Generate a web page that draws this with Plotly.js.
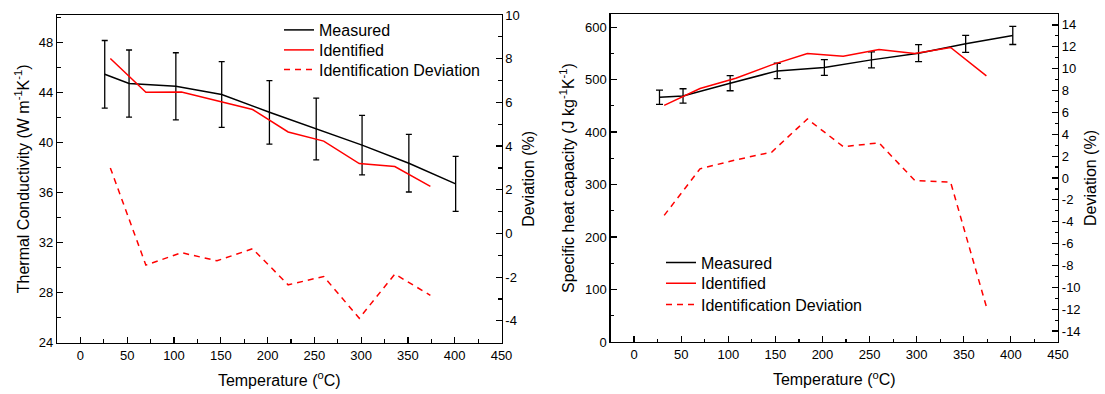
<!DOCTYPE html>
<html>
<head>
<meta charset="utf-8">
<script src="https://cdn.plot.ly/plotly-3.0.1.min.js"></script>
<style>html,body{margin:0;padding:0;background:#fff;}#chart{width:1105px;height:394px;}</style>
</head>
<body>
<div id="chart"></div>
<script>
// ---- Left panel: thermal conductivity ----
const condMeasuredT = [26, 52, 102, 151, 202, 252, 301, 351, 401];
const condMeasured  = [45.46, 44.72, 44.5, 43.84, 42.42, 41.08, 39.8, 38.35, 36.7];
const condErr       = [2.7, 2.68, 2.68, 2.63, 2.54, 2.47, 2.38, 2.3, 2.2];
const condIdentT    = [32, 70, 108, 146, 184, 222, 260, 298, 336, 374];
const condIdentified= [46.72, 44.02, 44.04, 43.32, 42.64, 40.85, 40.12, 38.32, 38.08, 36.5];
const condDeviation = [3.0, -1.45, -0.88, -1.25, -0.7, -2.35, -1.97, -3.88, -1.86, -2.83];

// ---- Right panel: specific heat capacity ----
const cpMeasuredT   = [27, 52, 102, 152, 202, 252, 302, 352, 402];
const cpMeasured    = [466.4, 468.9, 493.1, 516.6, 523, 537.6, 550.4, 568.2, 584.1];
const cpErr         = [13.7, 13.7, 14.3, 14.6, 15.0, 15.3, 16.2, 16.2, 17.2];
const cpIdentT      = [32, 70, 108, 146, 184, 222, 260, 298, 336, 374];
const cpIdentified  = [451, 483, 502.6, 528, 549.7, 544.6, 557.4, 549.7, 561.2, 507];
const cpDeviation   = [-3.42, 0.84, 1.66, 2.36, 5.4, 2.87, 3.21, -0.23, -0.38, -11.78];

// ---- Tick labels ----
const devLeftTickVals  = [-4, -2, 0, 2, 4, 6, 8, 10];
const devLeftTickText  = ['-4', '-2', '0', '2', '4', '6', '8', '10'];
const devRightTickVals = [-14, -12, -10, -8, -6, -4, -2, 0, 2, 4, 6, 8, 10, 12, 14];
const devRightTickText = ['-14', '-12', '-10', '-8', '-6', '-4', '-2', '0', '2', '4', '6', '8', '10', '12', '14'];

// ---- Text ----
const seriesNames = ['Measured', 'Identified', 'Identification Deviation'];
const xTitle = 'Temperature (<sup>o</sup>C)';
const condTitle = 'Thermal Conductivity (W m<sup>-1</sup>K<sup>-1</sup>)';
const cpTitle = 'Specific heat capacity (J kg<sup>-1</sup>K<sup>-1</sup>)';
const devTitle = 'Deviation (%)';

const FONT = 'Arial, "Liberation Sans", sans-serif';
const W = 1105, H = 394;
const px = v => v / W;
const py = v => 1 - v / H;

function errBar(arr, w) {
  return {type: 'data', array: arr, visible: true, color: '#000', thickness: 1.3, width: w};
}

const traces = [
  {x: condMeasuredT, y: condMeasured, error_y: errBar(condErr, 3), type: 'scatter', mode: 'lines',
   name: seriesNames[0], line: {color: '#000', width: 1.5}, xaxis: 'x', yaxis: 'y', legend: 'legend'},
  {x: condIdentT, y: condIdentified, type: 'scatter', mode: 'lines',
   name: seriesNames[1], line: {color: '#ff0000', width: 1.5}, xaxis: 'x', yaxis: 'y', legend: 'legend2'},
  {x: condIdentT, y: condDeviation, type: 'scatter', mode: 'lines',
   name: seriesNames[2], line: {color: '#ff0000', width: 1.5, dash: '6px,5px'}, xaxis: 'x', yaxis: 'y2', legend: 'legend3'},
  {x: cpMeasuredT, y: cpMeasured, error_y: errBar(cpErr, 3.5), type: 'scatter', mode: 'lines',
   name: seriesNames[0], line: {color: '#000', width: 1.5}, xaxis: 'x2', yaxis: 'y3', legend: 'legend4'},
  {x: cpIdentT, y: cpIdentified, type: 'scatter', mode: 'lines',
   name: seriesNames[1], line: {color: '#ff0000', width: 1.5}, xaxis: 'x2', yaxis: 'y3', legend: 'legend5'},
  {x: cpIdentT, y: cpDeviation, type: 'scatter', mode: 'lines',
   name: seriesNames[2], line: {color: '#ff0000', width: 1.5, dash: '6px,5px'}, xaxis: 'x2', yaxis: 'y4', legend: 'legend6'}
];

const tickFont = {family: FONT, size: 13, color: '#000'};
const titleFont = {family: FONT, size: 16, color: '#000'};

function baseAxis(extra) {
  return Object.assign({
    showline: true, linecolor: '#000', linewidth: 1.2,
    ticks: 'inside', ticklen: 6, tickwidth: 1.2, tickcolor: '#000',
    showgrid: false, zeroline: false, tickfont: tickFont, automargin: false,
    fixedrange: true
  }, extra);
}
function minorTicks(d) {
  return {ticks: 'inside', ticklen: 3.5, tickwidth: 1.2, tickcolor: '#000', tickmode: 'linear', tick0: 0, dtick: d};
}
function legendAt(xPx, yPx) {
  return {x: px(xPx), y: py(yPx), xanchor: 'left', yanchor: 'middle', bgcolor: 'rgba(0,0,0,0)', borderwidth: 0,
    font: {family: FONT, size: 16, color: '#000'}, tracegroupgap: 0, traceorder: 'normal'};
}

const layout = {
  width: W, height: H,
  margin: {l: 0, r: 0, t: 0, b: 0, pad: 0},
  paper_bgcolor: '#fff', plot_bgcolor: '#fff',
  font: {family: FONT, color: '#000'},
  showlegend: true,
  xaxis: baseAxis({domain: [px(57), px(501.5)], range: [-25, 450], tickmode: 'linear', tick0: 0, dtick: 50,
    minor: minorTicks(25), mirror: true, anchor: 'y', title: {text: xTitle, font: titleFont, standoff: 13}}),
  yaxis: baseAxis({domain: [py(342.7), py(15)], range: [24, 50.2], tickmode: 'linear', tick0: 0, dtick: 4,
    minor: minorTicks(2), anchor: 'x', title: {text: condTitle, font: titleFont, standoff: 5}}),
  yaxis2: baseAxis({domain: [py(342.7), py(15)], range: [-5, 10], tickmode: 'array', tickvals: devLeftTickVals, ticktext: devLeftTickText,
    minor: minorTicks(1), overlaying: 'y', side: 'right', anchor: 'x', title: {text: devTitle, font: titleFont, standoff: 4}}),
  xaxis2: baseAxis({domain: [px(610.5), px(1058)], range: [-25, 450], tickmode: 'linear', tick0: 0, dtick: 50,
    minor: minorTicks(25), mirror: true, anchor: 'y3', title: {text: xTitle, font: titleFont, standoff: 13}}),
  yaxis3: baseAxis({domain: [py(342), py(14)], range: [0, 625], tickmode: 'linear', tick0: 0, dtick: 100,
    minor: minorTicks(50), anchor: 'x2', title: {text: cpTitle, font: titleFont, standoff: 6}}),
  yaxis4: baseAxis({domain: [py(342), py(14)], range: [-15, 15], tickmode: 'array', tickvals: devRightTickVals, ticktext: devRightTickText,
    minor: minorTicks(1), overlaying: 'y3', side: 'right', anchor: 'x2', title: {text: devTitle, font: titleFont, standoff: 5}}),
  legend:  legendAt(279, 30),
  legend2: legendAt(279, 50),
  legend3: legendAt(279, 69.5),
  legend4: legendAt(661, 262.7),
  legend5: legendAt(661, 283.3),
  legend6: legendAt(661, 304.5)
};

Plotly.newPlot('chart', traces, layout, {staticPlot: true, displayModeBar: false});
</script>
</body>
</html>
